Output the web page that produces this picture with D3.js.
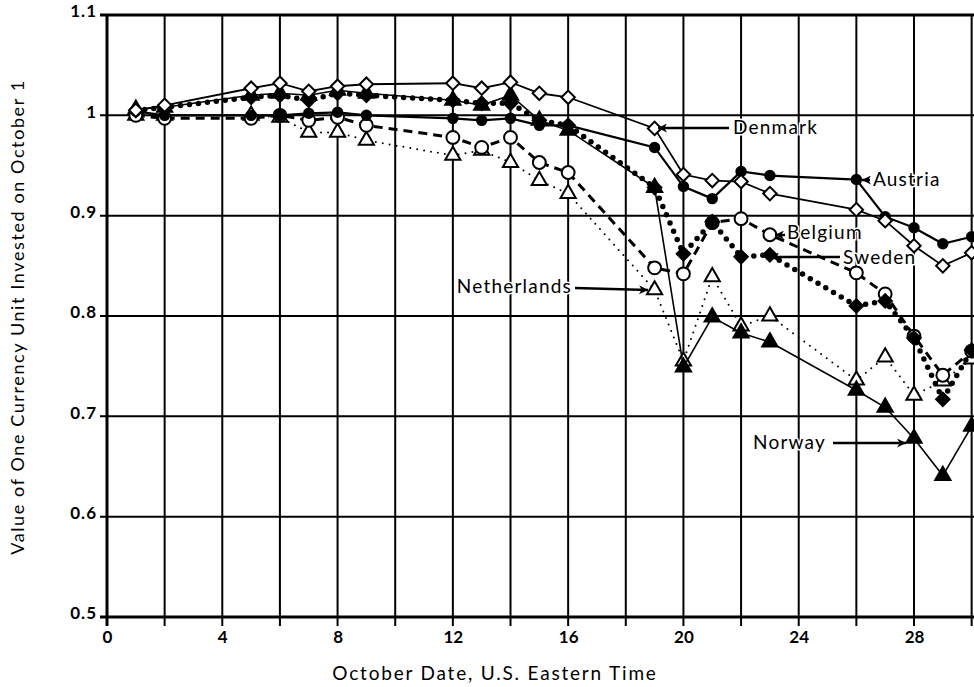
<!DOCTYPE html>
<html>
<head>
<meta charset="utf-8">
<script src="https://cdn.jsdelivr.net/npm/d3@7"></script>
<style>
  body { margin: 0; background: #fff; }
  svg { display: block; }
  text { font-family: "Lato", "Noto Sans", sans-serif; fill: #000; }
</style>
</head>
<body>
<svg></svg>
<script>
// trading days in October
var days = [1, 2, 5, 6, 7, 8, 9, 12, 13, 14, 15, 16, 19, 20, 21, 22, 23, 26, 27, 28, 29, 30];

var denmark     = [1.005, 1.01, 1.027, 1.032, 1.024, 1.029, 1.031, 1.032, 1.027, 1.033, 1.022, 1.018, 0.987, 0.941, 0.935, 0.934, 0.922, 0.906, 0.895, 0.87, 0.85, 0.863];
var austria     = [1.004, 1.0, 1.0, 1.0, 1.002, 1.003, 1.0, 0.997, 0.995, 0.997, 0.99, 0.99, 0.968, 0.929, 0.917, 0.944, 0.94, 0.936, 0.899, 0.888, 0.872, 0.879];
var belgium     = [1.0, 0.997, 0.997, 1.0, 0.995, 0.998, 0.99, 0.978, 0.968, 0.978, 0.953, 0.943, 0.848, 0.842, 0.893, 0.897, 0.881, 0.843, 0.822, 0.78, 0.741, 0.765];
var sweden      = [1.005, 1.008, 1.018, 1.02, 1.015, 1.022, 1.02, 1.015, 1.012, 1.012, 0.995, 0.99, 0.928, 0.862, 0.894, 0.859, 0.861, 0.81, 0.815, 0.778, 0.717, 0.766];
var netherlands = [1.0, 1.0, 1.0, 0.998, 0.983, 0.983, 0.975, 0.96, 0.965, 0.953, 0.935, 0.922, 0.826, 0.755, 0.839, 0.79, 0.8, 0.736, 0.759, 0.721, 0.735, 0.757];
var norway      = [1.006, 1.008, 1.02, 1.022, 1.02, 1.025, 1.022, 1.015, 1.01, 1.02, 0.995, 0.985, 0.928, 0.749, 0.799, 0.783, 0.774, 0.726, 0.709, 0.678, 0.641, 0.69];

var xTicks = [0, 4, 8, 12, 16, 20, 24, 28];
var yTicks = [0.5, 0.6, 0.7, 0.8, 0.9, 1, 1.1];

var screen = { width: 974, height: 687 };

var svg = d3.select("svg")
            .attr("width", screen.width)
            .attr("height", screen.height);

var xScale = d3.scaleLinear()
               .domain([0, 28])
               .range([107, 914]);

var yScale = d3.scaleLinear()
               .domain([0.5, 1.1])
               .range([617, 15]);

var xEnd = xScale(33);

// grid
var grid = svg.append("g").classed("grid", true);

grid.selectAll("line.v")
    .data(d3.range(2, 33, 2))
    .enter()
    .append("line")
    .attr("x1", function(d) { return xScale(d); })
    .attr("x2", function(d) { return xScale(d); })
    .attr("y1", yScale(1.1))
    .attr("y2", yScale(0.5) + 9)
    .attr("stroke", "#000")
    .attr("stroke-width", 2);

grid.selectAll("line.h")
    .data(yTicks)
    .enter()
    .append("line")
    .attr("x1", xScale(0) - 7)
    .attr("x2", xEnd)
    .attr("y1", function(d) { return yScale(d); })
    .attr("y2", function(d) { return yScale(d); })
    .attr("stroke", "#000")
    .attr("stroke-width", function(d) { return (d == 0.5 || d == 1.1) ? 3 : 2; });

// left axis line
svg.append("line")
   .attr("x1", xScale(0)).attr("x2", xScale(0))
   .attr("y1", yScale(1.1)).attr("y2", yScale(0.5) + 9)
   .attr("stroke", "#000")
   .attr("stroke-width", 3);

// axes labels
var yAxis = d3.axisLeft(yScale)
              .tickValues(yTicks)
              .tickSize(0)
              .tickPadding(10)
              .tickFormat(function(d) { return d == 1 ? "1" : d3.format(".1f")(d); });

svg.append("g")
   .attr("transform", "translate(" + xScale(0) + ",0)")
   .call(yAxis)
   .call(function(g) { g.select(".domain").remove(); })
   .selectAll("text")
   .style("font-size", "17px")
   .style("font-weight", "bold")
   .style("letter-spacing", "1px")
   .attr("dy", "0.1em");

var xAxis = d3.axisBottom(xScale)
              .tickValues(xTicks)
              .tickSize(0)
              .tickPadding(14);

svg.append("g")
   .attr("transform", "translate(0," + yScale(0.5) + ")")
   .call(xAxis)
   .call(function(g) { g.select(".domain").remove(); })
   .selectAll("text")
   .style("font-size", "17px")
   .style("font-weight", "bold");

svg.append("text")
   .attr("x", 495)
   .attr("y", 680)
   .attr("text-anchor", "middle")
   .style("font-size", "19px")
   .style("letter-spacing", "1.8px")
   .text("October Date, U.S. Eastern Time");

svg.append("text")
   .attr("transform", "translate(24,317) rotate(-90)")
   .attr("text-anchor", "middle")
   .style("font-size", "18px")
   .style("letter-spacing", "1.6px")
   .text("Value of One Currency Unit Invested on October 1");

// series
var series = [
  { name: "Netherlands", values: netherlands, dash: "0,7", width: 2, cap: "round", mark: "triangle", fill: "#fff" },
  { name: "Norway", values: norway, dash: null, width: 1.6, cap: "butt", mark: "triangle", fill: "#000" },
  { name: "Belgium", values: belgium, dash: "9,6", width: 3, cap: "butt", mark: "circle", fill: "#fff" },
  { name: "Sweden", values: sweden, dash: "0,9", width: 5.5, cap: "round", mark: "diamond", fill: "#000" },
  { name: "Austria", values: austria, dash: null, width: 2.2, cap: "butt", mark: "dot", fill: "#000" },
  { name: "Denmark", values: denmark, dash: null, width: 1.8, cap: "butt", mark: "diamond", fill: "#fff" }
];

var symbols = {
  triangle: d3.symbol().type(d3.symbolTriangle).size(100),
  circle: d3.symbol().type(d3.symbolCircle).size(130),
  diamond: d3.symbol().type(d3.symbolSquare).size(90),
  dot: d3.symbol().type(d3.symbolCircle).size(70)
};

var line = d3.line()
             .x(function(d) { return xScale(d.day); })
             .y(function(d) { return yScale(d.value); });

var plot = svg.append("g").classed("plot", true);

var groups = plot.selectAll("g.series")
                 .data(series)
                 .enter()
                 .append("g")
                 .classed("series", true);

groups.append("path")
      .attr("d", function(s) {
        return line(days.map(function(d, i) { return { day: d, value: s.values[i] }; }));
      })
      .attr("fill", "none")
      .attr("stroke", "#000")
      .attr("stroke-width", function(s) { return s.width; })
      .attr("stroke-linecap", function(s) { return s.cap; })
      .attr("stroke-dasharray", function(s) { return s.dash; });

groups.selectAll("path.mark")
      .data(function(s) {
        return days.map(function(d, i) { return { day: d, value: s.values[i], s: s }; });
      })
      .enter()
      .append("path")
      .classed("mark", true)
      .attr("transform", function(d) {
        var t = "translate(" + xScale(d.day) + "," + yScale(d.value) + ")";
        return d.s.mark == "diamond" ? t + " rotate(45)" : t;
      })
      .attr("d", function(d) { return symbols[d.s.mark](); })
      .attr("fill", function(d) { return d.s.fill; })
      .attr("stroke", "#000")
      .attr("stroke-width", 2);

// labels with arrows
svg.append("defs")
   .append("marker")
   .attr("id", "arrow")
   .attr("viewBox", "0 0 10 10")
   .attr("refX", 10).attr("refY", 5)
   .attr("markerWidth", 11).attr("markerHeight", 9)
   .attr("markerUnits", "userSpaceOnUse")
   .attr("orient", "auto")
   .append("path")
   .attr("d", "M0,0 L10,5 L0,10 L3,5 Z")
   .attr("fill", "#000");

var notes = [
  { text: "Denmark", tx: 733, ty: 134, anchor: "start", x1: 729, y1: 128, x2: 658, y2: 128 },
  { text: "Austria", tx: 873, ty: 186, anchor: "start", x1: 870, y1: 180, x2: 862, y2: 180 },
  { text: "Belgium", tx: 787, ty: 239, anchor: "start", x1: 785, y1: 235, x2: 775, y2: 235 },
  { text: "Sweden", tx: 843, ty: 264, anchor: "start", x1: 840, y1: 257, x2: 770, y2: 257 },
  { text: "Netherlands", tx: 572, ty: 293, anchor: "end", x1: 575, y1: 288, x2: 648, y2: 290 },
  { text: "Norway", tx: 826, ty: 449, anchor: "end", x1: 833, y1: 443, x2: 906, y2: 443 }
];

var noteG = svg.append("g").classed("notes", true);

noteG.selectAll("line")
     .data(notes)
     .enter()
     .append("line")
     .attr("x1", function(d) { return d.x1; })
     .attr("y1", function(d) { return d.y1; })
     .attr("x2", function(d) { return d.x2; })
     .attr("y2", function(d) { return d.y2; })
     .attr("stroke", "#000")
     .attr("stroke-width", 2.5)
     .attr("marker-end", "url(#arrow)");

noteG.selectAll("text")
     .data(notes)
     .enter()
     .append("text")
     .attr("x", function(d) { return d.tx; })
     .attr("y", function(d) { return d.ty; })
     .attr("text-anchor", function(d) { return d.anchor; })
     .style("font-size", "19px")
     .style("letter-spacing", "1.2px")
     .style("paint-order", "stroke")
     .style("stroke", "#fff")
     .style("stroke-width", "3px")
     .text(function(d) { return d.text; });
</script>
</body>
</html>
